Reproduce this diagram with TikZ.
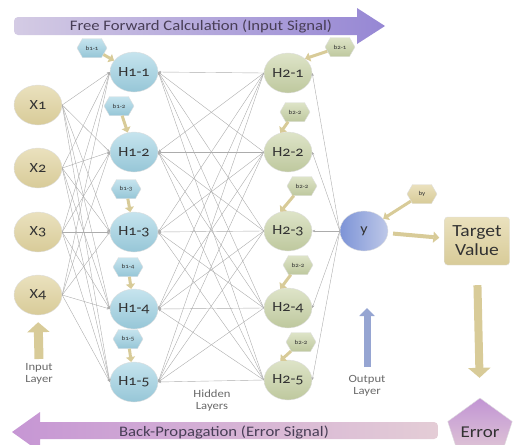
\documentclass[tikz,border=0pt]{standalone}
\usepackage{fontspec}
\setmainfont{Carlito}[Numbers=OldStyle,FakeStretch=1.15]
\usetikzlibrary{shapes.geometric,shapes.symbols,arrows.meta}
\newcommand{\xin}{38}
\newcommand{\xha}{134}
\newcommand{\xhb}{288}
\definecolor{sable}{RGB}{216,203,152}
\definecolor{sableclair}{RGB}{234,225,190}
\definecolor{bleu}{RGB}{150,198,215}
\definecolor{bleuclair}{RGB}{198,228,238}
\definecolor{vert}{RGB}{190,200,158}
\definecolor{vertclair}{RGB}{222,228,200}
\definecolor{bleuy}{RGB}{125,148,215}
\definecolor{bleuyclair}{RGB}{190,200,232}
\definecolor{bleusortie}{RGB}{150,165,210}
\definecolor{lavande}{RGB}{212,203,228}
\definecolor{violet}{RGB}{150,135,212}
\definecolor{mauve}{RGB}{198,150,212}
\definecolor{rose}{RGB}{228,205,214}
\definecolor{texte}{RGB}{50,50,50}
\definecolor{textebarre}{RGB}{72,62,86}
\definecolor{gristexte}{RGB}{105,105,105}
\tikzstyle{lien}=[gray!65, line width=0.4pt, -{Stealth[length=3pt,width=2.5pt]}]
\tikzstyle{neurone}=[ellipse, minimum width=48pt, minimum height=40pt, inner sep=0,
  draw=gray!25, text=texte, font=\fontsize{14}{14}\selectfont]
\tikzstyle{entree}=[neurone, top color=sableclair, bottom color=sable]
\tikzstyle{cachea}=[neurone, top color=bleuclair, bottom color=bleu]
\tikzstyle{cacheb}=[neurone, top color=vertclair, bottom color=vert]
\tikzstyle{biais}=[signal, signal to=east and west, signal pointer angle=120,
  minimum width=30pt, minimum height=19pt, inner sep=0, draw=gray!25, text=texte,
  font=\fontsize{6}{6}\selectfont]
\tikzstyle{poussee}=[sable, line width=3pt, -{Triangle[length=5pt,width=9pt]}]
\tikzstyle{legende}=[gristexte, align=center, font=\fontsize{11}{12}\selectfont]
\tikzstyle{barre}=[textebarre, font=\fontsize{14.5}{14.5}\selectfont]
\begin{document}
\begin{tikzpicture}[x=1pt,y=-1pt]
\useasboundingbox (0,0) rectangle (515,445);

%fleches du haut et du bas
\shade[left color=lavande, right color=violet]
  (357,35) [rounded corners=4pt] -- (14,35) -- (14,17) [sharp corners] -- (357,17)
  -- (357,8) -- (385,26) -- (357,44) -- cycle;
\node[barre] (avant) at (201,26) {Free Forward Calculation (Input Signal)};
\shade[left color=mauve, right color=rose]
  (40,422) [rounded corners=4pt] -- (438,422) -- (438,439) [sharp corners] -- (40,439)
  -- (40,452) -- (12,432) -- (40,412) -- cycle;
\node[barre] (arriere) at (224,432) {Back-Propagation (Error Signal)};

%neurones
\foreach \I/\Y in {1/105,2/168,3/232,4/295}
  \node[entree] (X\I) at (\xin,\Y) {X\I};
\foreach \I/\Y in {1/72,2/152,3/232,4/309,5/382}
  \node[cachea] (HA\I) at (\xha,\Y) {H1-\I};
\foreach \I/\Y in {1/73,2/152,3/231,4/308,5/380}
  \node[cacheb] (HB\I) at (\xhb,\Y) {H2-\I};
\node[neurone, left color=bleuy, right color=bleuyclair] (Y) at (364,231) {y};

%liens
\foreach \I in {1,...,4}
  \foreach \J in {1,...,5}
    \draw[lien] (X\I.east) -- (HA\J.west);
\foreach \I in {1,...,5}
  \foreach \J in {1,...,5}
    \draw[lien] (HB\J.west) -- (HA\I.east);
\foreach \J in {1,...,5}
  \draw[lien] (Y.west) -- (HB\J.east);

%biais
\foreach \I/\P in {1/{(92,48)},2/{(119,106)},3/{(126,189)},4/{(128,267)},5/{(128,339)}}
{\node[biais, top color=bleuclair, bottom color=bleu] (BA\I) at \P {b1-\I};
\draw[poussee] (BA\I) -- (HA\I);
}
\foreach \I/\P/\T in {1/{(340,47)}/b2-1,2/{(295,112)}/b2-2,3/{(302,186)}/b2-2,4/{(298,265)}/b2-2,5/{(301,342)}/b2-2}
{\node[biais, top color=vertclair, bottom color=vert] (BB\I) at \P {\T};
}
\draw[poussee] (BB1) -- (HB1.40);
\foreach \I in {2,...,5}
\draw[poussee] (BB\I) -- (HB\I.112);
\node[biais, top color=sableclair, bottom color=sable] (BY) at (422,194) {by};
\draw[poussee] (BY) -- (Y);

%sortie
\node[rectangle, rounded corners=3pt, minimum width=65pt, minimum height=48pt,
  top color=sableclair, bottom color=sable, draw=gray!25, text=texte, align=center,
  font=\fontsize{17}{19}\selectfont] (cible) at (477,241) {Target\\Value};
\node[regular polygon, regular polygon sides=5, minimum size=60pt, inner sep=0,
  top color=mauve!90!violet, bottom color=rose, draw=gray!25, text=texte,
  font=\fontsize{16.5}{16.5}\selectfont] (erreur) at (480,432) {Error};
\draw[poussee, line width=4pt, -{Triangle[length=6pt,width=11pt]}, shorten <=5pt, shorten >=5pt] (Y) -- (cible);
\draw[sable, line width=8pt, -{Triangle[length=10pt,width=22pt]}, shorten <=20pt, shorten >=20pt] (cible.south) -- (erreur.north);

%couches
\coordinate (piedX) at (39,359);
\draw[sable, line width=9pt, -{Triangle[length=10pt,width=22pt]}, shorten >=7pt] (piedX) -- (X4.south);
\node[legende] (entreeL) at (39,374) {Input\\Layer};
\coordinate (piedY) at (367,367);
\coordinate (teteY) at (367,308);
\draw[bleusortie, line width=7pt, -{Triangle[length=8pt,width=15pt]}] (piedY) -- (teteY);
\node[legende] (sortieL) at (367,386) {Output\\Layer};
\node[legende] (cacheL) at (212,401) {Hidden\\Layers};
\end{tikzpicture}
\end{document}
